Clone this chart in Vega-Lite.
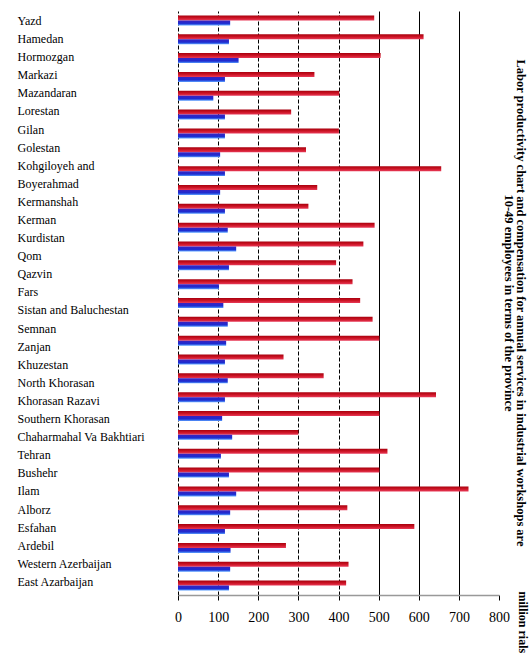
{
  "$schema": "https://vega.github.io/schema/vega-lite/v6.json",
  "width": 321,
  "height": 584,
  "autosize": "none",
  "padding": {"left": 178, "top": 11, "right": 31, "bottom": 62},
  "background": "white",
  "title": {
    "text": [
      "Labor productivity chart and compensation for annual services in industrial workshops are",
      "10-49 employees in terms of the province"
    ],
    "orient": "right",
    "frame": "group",
    "anchor": "middle",
    "offset": -26,
    "font": "Liberation Serif",
    "fontSize": 12.5,
    "fontWeight": "bold",
    "lineHeight": 12,
    "color": "black"
  },
  "config": {"view": {"stroke": null}, "font": "Liberation Serif"},
  "datasets": {
    "bars": [
      {"province": "Yazd", "series": "Labor productivity", "value": 489},
      {"province": "Yazd", "series": "Compensation", "value": 130},
      {"province": "Hamedan", "series": "Labor productivity", "value": 612},
      {"province": "Hamedan", "series": "Compensation", "value": 127},
      {"province": "Hormozgan", "series": "Labor productivity", "value": 505},
      {"province": "Hormozgan", "series": "Compensation", "value": 151},
      {"province": "Markazi", "series": "Labor productivity", "value": 340},
      {"province": "Markazi", "series": "Compensation", "value": 117},
      {"province": "Mazandaran", "series": "Labor productivity", "value": 402},
      {"province": "Mazandaran", "series": "Compensation", "value": 88},
      {"province": "Lorestan", "series": "Labor productivity", "value": 282},
      {"province": "Lorestan", "series": "Compensation", "value": 117},
      {"province": "Gilan", "series": "Labor productivity", "value": 401},
      {"province": "Gilan", "series": "Compensation", "value": 117},
      {"province": "Golestan", "series": "Labor productivity", "value": 319},
      {"province": "Golestan", "series": "Compensation", "value": 105},
      {"province": "Kohgiloyeh and Boyerahmad", "series": "Labor productivity", "value": 656},
      {"province": "Kohgiloyeh and Boyerahmad", "series": "Compensation", "value": 117},
      {"province": "Kermanshah", "series": "Labor productivity", "value": 347},
      {"province": "Kermanshah", "series": "Compensation", "value": 105},
      {"province": "Kerman", "series": "Labor productivity", "value": 325},
      {"province": "Kerman", "series": "Compensation", "value": 117},
      {"province": "Kurdistan", "series": "Labor productivity", "value": 490},
      {"province": "Kurdistan", "series": "Compensation", "value": 124},
      {"province": "Qom", "series": "Labor productivity", "value": 462},
      {"province": "Qom", "series": "Compensation", "value": 145},
      {"province": "Qazvin", "series": "Labor productivity", "value": 394},
      {"province": "Qazvin", "series": "Compensation", "value": 127},
      {"province": "Fars", "series": "Labor productivity", "value": 435},
      {"province": "Fars", "series": "Compensation", "value": 102},
      {"province": "Sistan and Baluchestan", "series": "Labor productivity", "value": 454},
      {"province": "Sistan and Baluchestan", "series": "Compensation", "value": 113},
      {"province": "Semnan", "series": "Labor productivity", "value": 485},
      {"province": "Semnan", "series": "Compensation", "value": 124},
      {"province": "Zanjan", "series": "Labor productivity", "value": 502},
      {"province": "Zanjan", "series": "Compensation", "value": 120},
      {"province": "Khuzestan", "series": "Labor productivity", "value": 263},
      {"province": "Khuzestan", "series": "Compensation", "value": 117},
      {"province": "North Khorasan", "series": "Labor productivity", "value": 363},
      {"province": "North Khorasan", "series": "Compensation", "value": 124},
      {"province": "Khorasan Razavi", "series": "Labor productivity", "value": 643},
      {"province": "Khorasan Razavi", "series": "Compensation", "value": 117},
      {"province": "Southern Khorasan", "series": "Labor productivity", "value": 502},
      {"province": "Southern Khorasan", "series": "Compensation", "value": 110},
      {"province": "Chaharmahal Va Bakhtiari", "series": "Labor productivity", "value": 300},
      {"province": "Chaharmahal Va Bakhtiari", "series": "Compensation", "value": 135},
      {"province": "Tehran", "series": "Labor productivity", "value": 522},
      {"province": "Tehran", "series": "Compensation", "value": 107},
      {"province": "Bushehr", "series": "Labor productivity", "value": 502},
      {"province": "Bushehr", "series": "Compensation", "value": 127},
      {"province": "Ilam", "series": "Labor productivity", "value": 724},
      {"province": "Ilam", "series": "Compensation", "value": 145},
      {"province": "Alborz", "series": "Labor productivity", "value": 422},
      {"province": "Alborz", "series": "Compensation", "value": 130},
      {"province": "Esfahan", "series": "Labor productivity", "value": 589},
      {"province": "Esfahan", "series": "Compensation", "value": 117},
      {"province": "Ardebil", "series": "Labor productivity", "value": 269},
      {"province": "Ardebil", "series": "Compensation", "value": 131},
      {"province": "Western Azerbaijan", "series": "Labor productivity", "value": 425},
      {"province": "Western Azerbaijan", "series": "Compensation", "value": 130},
      {"province": "East Azarbaijan", "series": "Labor productivity", "value": 419},
      {"province": "East Azarbaijan", "series": "Compensation", "value": 127}
    ],
    "labels": [
      {"line": "Yazd"},
      {"line": "Hamedan"},
      {"line": "Hormozgan"},
      {"line": "Markazi"},
      {"line": "Mazandaran"},
      {"line": "Lorestan"},
      {"line": "Gilan"},
      {"line": "Golestan"},
      {"line": "Kohgiloyeh and"},
      {"line": "Boyerahmad"},
      {"line": "Kermanshah"},
      {"line": "Kerman"},
      {"line": "Kurdistan"},
      {"line": "Qom"},
      {"line": "Qazvin"},
      {"line": "Fars"},
      {"line": "Sistan and Baluchestan"},
      {"line": "Semnan"},
      {"line": "Zanjan"},
      {"line": "Khuzestan"},
      {"line": "North Khorasan"},
      {"line": "Khorasan Razavi"},
      {"line": "Southern Khorasan"},
      {"line": "Chaharmahal Va Bakhtiari"},
      {"line": "Tehran"},
      {"line": "Bushehr"},
      {"line": "Ilam"},
      {"line": "Alborz"},
      {"line": "Esfahan"},
      {"line": "Ardebil"},
      {"line": "Western Azerbaijan"},
      {"line": "East Azarbaijan"}
    ]
  },
  "layer": [
    {
      "data": {"name": "bars"},
      "mark": {"type": "bar"},
      "encoding": {
        "y": {
          "field": "province",
          "type": "nominal",
          "sort": null,
          "axis": null,
          "scale": {"paddingInner": 0.47, "paddingOuter": 0.235}
        },
        "yOffset": {
          "field": "series",
          "type": "nominal",
          "sort": ["Labor productivity", "Compensation"],
          "scale": {"paddingInner": 0, "paddingOuter": 0}
        },
        "x": {
          "field": "value",
          "type": "quantitative",
          "scale": {"domain": [0, 800], "nice": false},
          "axis": {
            "values": [0, 100, 200, 300, 400, 500, 600, 700, 800],
            "title": "million rials",
            "titleAngle": 90,
            "titleAlign": "left",
            "titleBaseline": "middle",
            "titleX": 344,
            "titleY": -4,
            "titleFont": "Liberation Serif",
            "titleFontSize": 12,
            "titleFontWeight": "bold",
            "titleColor": "black",
            "grid": true,
            "gridColor": "black",
            "gridWidth": 1,
            "gridDash": {"condition": {"test": "datum.value < 500", "value": [4, 2]}, "value": []},
            "gridOpacity": {"condition": {"test": "datum.value == 800", "value": 0}, "value": 1},
            "domainColor": "#999999",
            "domainWidth": 1.5,
            "tickColor": "black",
            "tickSize": 5,
            "labelFont": "Liberation Serif",
            "labelFontSize": 14,
            "labelColor": "black",
            "labelPadding": 10,
            "labelFlush": false
          }
        },
        "color": {
          "condition": {
            "test": "datum.series === 'Labor productivity'",
            "value": {
              "gradient": "linear", "x1": 0, "y1": 0, "x2": 0, "y2": 1,
              "stops": [
                {"offset": 0, "color": "#a8000e"},
                {"offset": 0.5, "color": "#cc1424"},
                {"offset": 1, "color": "#e83a58"}
              ]
            }
          },
          "value": {
            "gradient": "linear", "x1": 0, "y1": 0, "x2": 0, "y2": 1,
            "stops": [
              {"offset": 0, "color": "#3a22c0"},
              {"offset": 0.6, "color": "#1c2cd0"},
              {"offset": 1, "color": "#5aa0ff"}
            ]
          }
        }
      }
    },
    {
      "data": {"name": "labels"},
      "mark": {"type": "text", "text": "", "opacity": 0},
      "encoding": {
        "y": {
          "field": "line",
          "type": "nominal",
          "sort": null,
          "scale": {"type": "point", "padding": 0.635, "align": 0.41},
          "axis": {
            "orient": "left",
            "title": null,
            "domain": false,
            "ticks": false,
            "tickSize": 0,
            "grid": false,
            "labelAlign": "left",
            "labelPadding": 161,
            "labelOverlap": false,
            "labelFont": "Liberation Serif",
            "labelFontSize": 12,
            "labelColor": "black"
          }
        }
      }
    }
  ],
  "resolve": {"scale": {"y": "independent"}, "axis": {"y": "independent"}}
}
